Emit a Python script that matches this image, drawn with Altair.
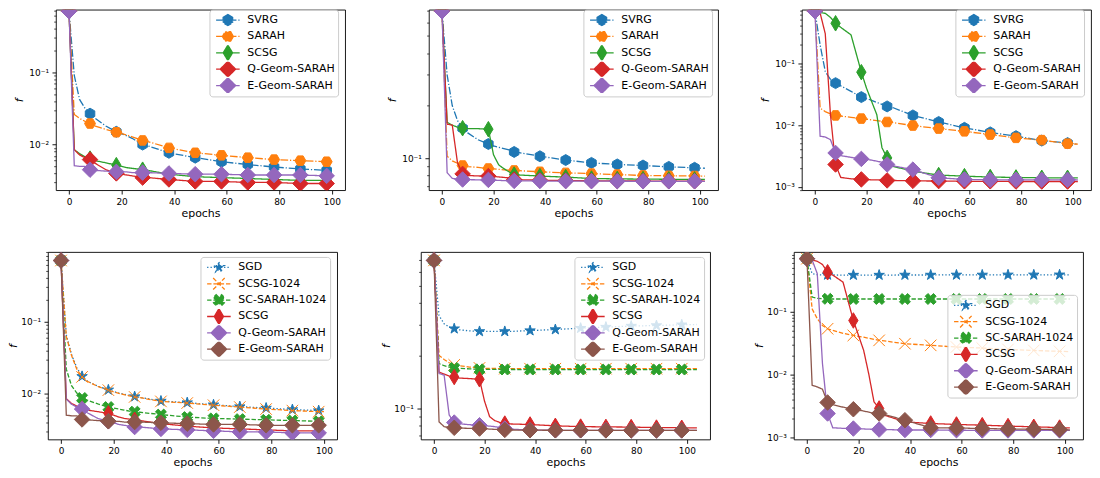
import math
import altair as alt
import pandas as pd

FONT = "DejaVu Sans"

# ---------------- data ----------------
EPOCH_GRID = [0, 2, 4, 6, 8, 10, 14, 18, 20, 22, 24, 26, 28, 30, 38, 48, 58, 68, 78, 88, 98]
MARK_EPOCHS = [0, 8, 18, 28, 38, 48, 58, 68, 78, 88, 98]

TOP_SERIES = ["SVRG", "SARAH", "SCSG", "Q-Geom-SARAH", "E-Geom-SARAH"]
BOTTOM_SERIES = ["SGD", "SCSG-1024", "SC-SARAH-1024", "SCSG", "Q-Geom-SARAH", "E-Geom-SARAH"]

# panel 1 (top left), last epoch 100
P1_SVRG = [0.693, 0.090, 0.042, 0.032, 0.0267, 0.023, 0.018, 0.0150, 0.0142, 0.0132, 0.0122, 0.0110, 0.0100, 0.0096, 0.0077, 0.0066, 0.0058, 0.0053, 0.0049, 0.0046, 0.0044, 0.0044]
P1_SARAH = [0.693, 0.026, 0.023, 0.021, 0.0195, 0.018, 0.0162, 0.0148, 0.0142, 0.0135, 0.0128, 0.0121, 0.0114, 0.0110, 0.0090, 0.0077, 0.0071, 0.0066, 0.0062, 0.0060, 0.0058, 0.0057]
P1_SCSG = [0.693, 0.0085, 0.0075, 0.0068, 0.0064, 0.0060, 0.0056, 0.0052, 0.0050, 0.0048, 0.0047, 0.0046, 0.0045, 0.0044, 0.0039, 0.0036, 0.0035, 0.0034, 0.0033, 0.0032, 0.0032, 0.0032]
P1_QGEOM = [0.693, 0.0085, 0.0072, 0.0066, 0.0062, 0.0055, 0.0045, 0.0040, 0.0039, 0.0038, 0.0037, 0.0036, 0.0035, 0.0035, 0.0033, 0.0031, 0.0031, 0.0030, 0.0030, 0.0029, 0.0029, 0.0029]
P1_EGEOM = [0.693, 0.0051, 0.0050, 0.0050, 0.0045, 0.0044, 0.0043, 0.0042, 0.0042, 0.0042, 0.0041, 0.0041, 0.0041, 0.0041, 0.0040, 0.0039, 0.0039, 0.0038, 0.0038, 0.0038, 0.0037, 0.0037]

# panel 2 (top middle), last epoch 102
P2_SVRG = [0.693, 0.30, 0.20, 0.165, 0.149, 0.140, 0.128, 0.121, 0.118, 0.116, 0.114, 0.112, 0.109, 0.108, 0.103, 0.098, 0.0944, 0.0925, 0.0912, 0.0896, 0.0885, 0.088]
P2_SARAH = [0.693, 0.103, 0.097, 0.094, 0.0912, 0.090, 0.089, 0.0877, 0.0872, 0.0867, 0.0862, 0.0858, 0.0855, 0.0852, 0.084, 0.0828, 0.082, 0.081, 0.080, 0.0797, 0.0795, 0.0793]
P2_SCSG = [0.693, 0.161, 0.155, 0.151, 0.149, 0.148, 0.148, 0.147, 0.105, 0.092, 0.0875, 0.084, 0.081, 0.0805, 0.0794, 0.0783, 0.0769, 0.0765, 0.0763, 0.0761, 0.0760, 0.0760]
P2_QGEOM = [0.693, 0.157, 0.155, 0.095, 0.0817, 0.080, 0.0795, 0.0794, 0.079, 0.0785, 0.078, 0.0775, 0.0759, 0.0757, 0.0752, 0.0748, 0.0746, 0.0745, 0.0744, 0.0743, 0.0743, 0.0743]
P2_EGEOM = [0.693, 0.083, 0.077, 0.0762, 0.0759, 0.0757, 0.0756, 0.0755, 0.0752, 0.075, 0.0748, 0.0747, 0.0745, 0.0745, 0.0744, 0.0743, 0.0742, 0.0742, 0.0741, 0.0741, 0.0741, 0.0741]

# panel 3 (top right), last epoch 102
P3_SVRG = [0.693, 0.198, 0.0735, 0.055, 0.0476, 0.043, 0.035, 0.0283, 0.027, 0.025, 0.0232, 0.0215, 0.020, 0.0193, 0.0143, 0.0112, 0.0090, 0.0076, 0.0066, 0.0056, 0.0051, 0.0049]
P3_SARAH = [0.693, 0.0188, 0.0165, 0.0152, 0.0143, 0.0140, 0.0133, 0.0127, 0.0124, 0.0121, 0.0118, 0.0115, 0.0112, 0.0110, 0.0098, 0.00875, 0.0079, 0.0070, 0.0062, 0.0057, 0.0050, 0.0049]
P3_SCSG = [0.693, 0.66, 0.64, 0.55, 0.442, 0.38, 0.287, 0.0716, 0.0395, 0.024, 0.0147, 0.0043, 0.00294, 0.00216, 0.00179, 0.00155, 0.00149, 0.00144, 0.00142, 0.0014, 0.0014, 0.0014]
P3_QGEOM = [0.693, 0.65, 0.30, 0.015, 0.0023, 0.00142, 0.00135, 0.00132, 0.00131, 0.0013, 0.0013, 0.0013, 0.00127, 0.00127, 0.00125, 0.00124, 0.00123, 0.00123, 0.00122, 0.00122, 0.00122, 0.00122]
P3_EGEOM = [0.693, 0.0066, 0.0064, 0.0058, 0.00353, 0.0032, 0.0030, 0.00283, 0.0028, 0.0027, 0.0026, 0.0025, 0.0023, 0.0022, 0.0019, 0.0014, 0.00132, 0.0013, 0.0013, 0.0013, 0.0013, 0.0013]

# panel 4 (bottom left), last epoch 100
P4_SGD = [0.693, 0.065, 0.035, 0.023, 0.0175, 0.015, 0.0128, 0.0114, 0.0108, 0.0103, 0.0099, 0.0095, 0.0092, 0.0090, 0.0080, 0.0076, 0.0071, 0.0067, 0.0064, 0.0061, 0.0059, 0.0059]
P4_SCSG1024 = [0.693, 0.062, 0.034, 0.022, 0.0172, 0.015, 0.0127, 0.0113, 0.0107, 0.0102, 0.0098, 0.0094, 0.0091, 0.0089, 0.0079, 0.0075, 0.0070, 0.0066, 0.0062, 0.0059, 0.0057, 0.0057]
P4_SCSARAH = [0.693, 0.022, 0.013, 0.0103, 0.0088, 0.0082, 0.0073, 0.0066, 0.0064, 0.0062, 0.0060, 0.0058, 0.0057, 0.0056, 0.0052, 0.0048, 0.0046, 0.0045, 0.0044, 0.0043, 0.0042, 0.0042]
P4_SCSG = [0.693, 0.0086, 0.0074, 0.0068, 0.0063, 0.0060, 0.0057, 0.0054, 0.0051, 0.0048, 0.0046, 0.0045, 0.0044, 0.0043, 0.0039, 0.0036, 0.0034, 0.0033, 0.0032, 0.0031, 0.0031, 0.0031]
P4_QGEOM = [0.693, 0.0085, 0.0072, 0.0066, 0.0062, 0.0055, 0.0046, 0.0042, 0.0040, 0.0038, 0.0037, 0.0036, 0.0035, 0.0035, 0.0033, 0.0032, 0.0031, 0.0030, 0.0030, 0.0029, 0.0029, 0.0029]
P4_EGEOM = [0.693, 0.0051, 0.0050, 0.0050, 0.00445, 0.0044, 0.0043, 0.0042, 0.0042, 0.0042, 0.0041, 0.0041, 0.0041, 0.0041, 0.0040, 0.0039, 0.0038, 0.0038, 0.0037, 0.0037, 0.0037, 0.0037]

# panel 5 (bottom middle), last epoch 104
P5_SGD = [0.693, 0.337, 0.303, 0.290, 0.284, 0.280, 0.276, 0.274, 0.274, 0.274, 0.274, 0.274, 0.274, 0.274, 0.277, 0.281, 0.286, 0.290, 0.294, 0.296, 0.299, 0.300]
P5_SCSG1024 = [0.693, 0.200, 0.190, 0.182, 0.177, 0.175, 0.172, 0.170, 0.169, 0.169, 0.169, 0.1685, 0.1684, 0.1684, 0.1684, 0.1684, 0.1684, 0.1684, 0.1684, 0.1684, 0.1684, 0.1684]
P5_SCSARAH = [0.693, 0.180, 0.175, 0.172, 0.170, 0.169, 0.168, 0.167, 0.167, 0.167, 0.1668, 0.1667, 0.1666, 0.1666, 0.1665, 0.1665, 0.1665, 0.1665, 0.1665, 0.1665, 0.1665, 0.1665]
P5_SCSG = [0.693, 0.161, 0.157, 0.153, 0.151, 0.149, 0.148, 0.1466, 0.110, 0.090, 0.0855, 0.0835, 0.0822, 0.0818, 0.0812, 0.0798, 0.0790, 0.0787, 0.0785, 0.0780, 0.0778, 0.0778]
P5_QGEOM = [0.693, 0.158, 0.155, 0.092, 0.0833, 0.082, 0.081, 0.0804, 0.080, 0.0795, 0.079, 0.078, 0.077, 0.0765, 0.0755, 0.0753, 0.0753, 0.0753, 0.0752, 0.0752, 0.0752, 0.0752]
P5_EGEOM = [0.693, 0.084, 0.079, 0.078, 0.0778, 0.0775, 0.0772, 0.077, 0.0768, 0.0765, 0.0762, 0.076, 0.0757, 0.0756, 0.0754, 0.0753, 0.0753, 0.0752, 0.0752, 0.0752, 0.0752, 0.0752]

# panel 6 (bottom right), last epoch 102
P6_SGD = [0.693, 0.400, 0.385, 0.382, 0.382, 0.381, 0.380, 0.380, 0.380, 0.380, 0.380, 0.380, 0.380, 0.380, 0.381, 0.381, 0.382, 0.382, 0.383, 0.383, 0.384, 0.384]
P6_SCSG1024 = [0.693, 0.110, 0.0766, 0.060, 0.0531, 0.050, 0.045, 0.0416, 0.040, 0.039, 0.0375, 0.036, 0.0347, 0.034, 0.0307, 0.0289, 0.0272, 0.0262, 0.0249, 0.0240, 0.0232, 0.0230]
P6_SCSARAH = [0.693, 0.170, 0.162, 0.160, 0.159, 0.158, 0.158, 0.158, 0.158, 0.158, 0.158, 0.158, 0.158, 0.158, 0.158, 0.158, 0.158, 0.158, 0.158, 0.158, 0.158, 0.158]
P6_SCSG = [0.693, 0.66, 0.63, 0.56, 0.421, 0.38, 0.293, 0.0719, 0.0416, 0.024, 0.010, 0.00365, 0.00286, 0.00224, 0.00175, 0.00165, 0.00159, 0.00155, 0.0015, 0.00146, 0.00142, 0.0014]
P6_QGEOM = [0.693, 0.66, 0.40, 0.015, 0.00238, 0.00141, 0.00138, 0.00137, 0.00136, 0.00135, 0.00134, 0.00133, 0.00132, 0.00132, 0.0013, 0.0013, 0.00129, 0.00128, 0.00128, 0.00128, 0.00128, 0.00128]
P6_EGEOM = [0.693, 0.0067, 0.0063, 0.0058, 0.00356, 0.0033, 0.0030, 0.00278, 0.0027, 0.0026, 0.0025, 0.0024, 0.00238, 0.0023, 0.00186, 0.00141, 0.0014, 0.00137, 0.00135, 0.00133, 0.00132, 0.0013]

X_TICKS = [0, 20, 40, 60, 80, 100]

# ---------------- styles ----------------
def poly(pts):
    return "M" + "L".join(f"{x:.3f},{y:.3f}" for x, y in pts) + "Z"

HEX_POINTY = poly([(math.cos(math.radians(-90 + 60 * k)), math.sin(math.radians(-90 + 60 * k))) for k in range(6)])
HEX_FLAT = poly([(math.cos(math.radians(60 * k)), math.sin(math.radians(60 * k))) for k in range(6)])
STAR = poly([((1.0 if k % 2 == 0 else 0.382) * math.cos(math.radians(-90 + 36 * k)),
              (1.0 if k % 2 == 0 else 0.382) * math.sin(math.radians(-90 + 36 * k))) for k in range(10)])
DIAMOND = poly([(0, -1.414), (1.414, 0), (0, 1.414), (-1.414, 0)])
THIN_DIAMOND = poly([(0, -1.414), (0.85, 0), (0, 1.414), (-0.85, 0)])
X_THIN = "M-1.05,-1.05L1.05,1.05M-1.05,1.05L1.05,-1.05"
X_FILLED = poly([(-0.5, -1), (0, -0.5), (0.5, -1), (1, -0.5), (0.5, 0), (1, 0.5),
                 (0.5, 1), (0, 0.5), (-0.5, 1), (-1, 0.5), (-0.5, 0), (-1, -0.5)])
LEG_LINE = "M-2.15,0H2.15"

DASHDOT = [7.7, 1.9, 1.2, 1.9]
DOTTED = [1.3, 2.1]
DASHED = [4.4, 1.9]
SOLID = [1, 0]

TOP_COLORS = ["#1f77b4", "#ff7f0e", "#2ca02c", "#d62728", "#9467bd"]
TOP_DASHES = [DASHDOT, DASHDOT, SOLID, SOLID, SOLID]
TOP_SHAPES = [HEX_POINTY, HEX_FLAT, THIN_DIAMOND, DIAMOND, DIAMOND]
BOT_COLORS = ["#1f77b4", "#ff7f0e", "#2ca02c", "#d62728", "#9467bd", "#8c564b"]
BOT_DASHES = [DOTTED, DASHED, DASHED, SOLID, SOLID, SOLID]
BOT_SHAPES = [STAR, X_THIN, X_FILLED, THIN_DIAMOND, DIAMOND, DIAMOND]

MARKER_SIZE = 121
LINE_W = 1.3

DEC_TEST = "abs(log(datum.value)/LN10 - round(log(datum.value)/LN10)) < 0.001"
EXP = "round(log(datum.value)/LN10)"
Y_LABEL_EXPR = (f"{DEC_TEST} ? '10' + ({EXP} == 0 ? '⁰' : {EXP} == -1 ? '⁻¹' : "
                f"{EXP} == -2 ? '⁻²' : {EXP} == -3 ? '⁻³' : '⁻⁴') : ''")

INDEP = dict(x="independent", y="independent", fill="independent", stroke="independent",
             shape="independent", strokeDash="independent")


def log_tick_values(lo, hi):
    vals = []
    for d in range(-5, 1):
        for m in range(1, 10):
            v = m * 10.0 ** d
            if lo <= v <= hi:
                vals.append(round(v, 8))
    return vals


def panel(names, series_vals, last_epoch, colors, dashes, shapes, xdom, ydom,
          height, legend_xy, title_pad):
    xs = EPOCH_GRID + [last_epoch]
    rows = []
    for name, vals in zip(names, series_vals):
        for x, v in zip(xs, vals):
            rows.append({"epoch": x, "f": v, "series": name, "mark": x in MARK_EPOCHS})
    df = pd.DataFrame(rows)

    x_enc = alt.X("epoch:Q",
                  scale=alt.Scale(domain=xdom, nice=False, zero=False),
                  axis=alt.Axis(values=X_TICKS, format="d", labelFontSize=9, labelFont=FONT,
                                labelColor="#000", labelPadding=3.5, labelFlush=False,
                                tickSize=3.9, tickWidth=0.9, tickColor="#000",
                                domain=False, grid=False, title="epochs",
                                titleFont=FONT, titleFontSize=11, titleFontWeight="normal",
                                titleColor="#000", titlePadding=1))
    y_enc = alt.Y("f:Q",
                  scale=alt.Scale(type="log", domain=ydom, nice=False),
                  axis=alt.Axis(values=log_tick_values(*ydom), labelExpr=Y_LABEL_EXPR,
                                labelOverlap=False,
                                labelFontSize={"condition": {"test": DEC_TEST, "value": 9}, "value": 0},
                                labelFont=FONT,
                                labelColor="#000", labelPadding=3.5, labelFlush=False,
                                tickSize={"condition": {"test": DEC_TEST, "value": 3.9}, "value": 2.2},
                                tickWidth={"condition": {"test": DEC_TEST, "value": 0.9}, "value": 0.7},
                                tickColor="#000", domain=False, grid=False,
                                title="f", titleFont=FONT, titleFontSize=11,
                                titleFontStyle="italic", titleFontWeight="normal",
                                titleColor="#000", titlePadding=title_pad))

    layers = []
    for name, col, dash, shp in zip(names, colors, dashes, shapes):
        d = df[df["series"] == name]
        line = alt.Chart(d).mark_line(color=col, strokeDash=dash, strokeWidth=LINE_W,
                                      clip=True).encode(x=x_enc, y=y_enc)
        pts = alt.Chart(d[d["mark"]]).mark_point(shape=shp, filled=True, fill=col, stroke=col,
                                                 strokeWidth=1.0, size=MARKER_SIZE, opacity=1,
                                                 clip=True).encode(x=x_enc, y=y_enc)
        layers += [line, pts]

    leg = alt.Legend(title=None, orient="none", legendX=legend_xy[0], legendY=legend_xy[1],
                     labelFont=FONT, labelFontSize=11, labelColor="#000",
                     symbolSize=MARKER_SIZE, symbolStrokeWidth=LINE_W,
                     symbolOffset=9, labelOffset=13, rowPadding=1.4, clipHeight=15, padding=3,
                     strokeColor="#cccccc", fillColor="rgba(255,255,255,0.8)",
                     cornerRadius=3, symbolLimit=0)
    leg_shapes = [LEG_LINE + s for s in shapes]
    legend_layer = alt.Chart(df).transform_filter("datum.f < 0").mark_point(
        filled=True, size=MARKER_SIZE, opacity=1, strokeWidth=LINE_W
    ).encode(
        x=x_enc, y=y_enc,
        fill=alt.Fill("series:N", scale=alt.Scale(domain=names, range=colors), legend=leg),
        stroke=alt.Stroke("series:N", scale=alt.Scale(domain=names, range=colors), legend=leg),
        shape=alt.Shape("series:N", scale=alt.Scale(domain=names, range=leg_shapes), legend=leg),
        strokeDash=alt.StrokeDash("series:N", scale=alt.Scale(domain=names, range=dashes), legend=leg),
    )
    layers.append(legend_layer)
    return alt.layer(*layers).properties(width=290, height=height)


def spacer(w, h):
    return alt.Chart(pd.DataFrame({"a": [0.0]})).transform_filter("datum.a > 1").mark_point().encode(
        x=alt.X("a:Q", axis=None), y=alt.Y("a:Q", axis=None)
    ).properties(width=w, height=h, view=alt.ViewBackground(stroke="transparent"))


TOP_H = 181
BOT_H = 188
TOP_TP = 4
BOT_TP = 2

p1 = panel(TOP_SERIES, [P1_SVRG, P1_SARAH, P1_SCSG, P1_QGEOM, P1_EGEOM], 100,
           TOP_COLORS, TOP_DASHES, TOP_SHAPES, [-5, 105], [0.00235, 0.7285], TOP_H, (154, 0), TOP_TP)
p2 = panel(TOP_SERIES, [P2_SVRG, P2_SARAH, P2_SCSG, P2_QGEOM, P2_EGEOM], 102,
           TOP_COLORS, TOP_DASHES, TOP_SHAPES, [-5.1, 107.1], [0.0660, 0.7075], TOP_H, (155, 0), TOP_TP)
p3 = panel(TOP_SERIES, [P3_SVRG, P3_SARAH, P3_SCSG, P3_QGEOM, P3_EGEOM], 102,
           TOP_COLORS, TOP_DASHES, TOP_SHAPES, [-5.1, 107.1], [0.000885, 0.7349], TOP_H, (154, 0), TOP_TP)
p4 = panel(BOTTOM_SERIES, [P4_SGD, P4_SCSG1024, P4_SCSARAH, P4_SCSG, P4_QGEOM, P4_EGEOM], 100,
           BOT_COLORS, BOT_DASHES, BOT_SHAPES, [-5, 105], [0.00236, 0.909], BOT_H, (153, 5), BOT_TP)
p5 = panel(BOTTOM_SERIES, [P5_SGD, P5_SCSG1024, P5_SCSARAH, P5_SCSG, P5_QGEOM, P5_EGEOM], 104,
           BOT_COLORS, BOT_DASHES, BOT_SHAPES, [-5.2, 109.2], [0.0668, 0.774], BOT_H, (154, 5), BOT_TP)
p6 = panel(BOTTOM_SERIES, [P6_SGD, P6_SCSG1024, P6_SCSARAH, P6_SCSG, P6_QGEOM, P6_EGEOM], 102,
           BOT_COLORS, BOT_DASHES, BOT_SHAPES, [-5.1, 107.1], [0.000919, 0.886], BOT_H, (154, 43), BOT_TP)

top_inner = alt.hconcat(p1, p2, p3, spacing=84, bounds="flush").resolve_scale(**INDEP)
bot_inner = alt.hconcat(p4, p5, p6, spacing=84, bounds="flush").resolve_scale(**INDEP)
top = alt.hconcat(spacer(9, TOP_H), top_inner, spacing=0, bounds="flush").resolve_scale(**INDEP)
bottom = alt.hconcat(spacer(1, BOT_H), bot_inner, spacing=0, bounds="flush").resolve_scale(**INDEP)

chart = alt.vconcat(top, bottom, spacing=32).resolve_scale(**INDEP).properties(
    padding={"left": -1, "top": 0, "right": 0, "bottom": 0}
).configure(font=FONT).configure_view(stroke="#000", strokeWidth=0.9)

chart.save("out.html", embed_options={"renderer": "svg", "actions": False})
